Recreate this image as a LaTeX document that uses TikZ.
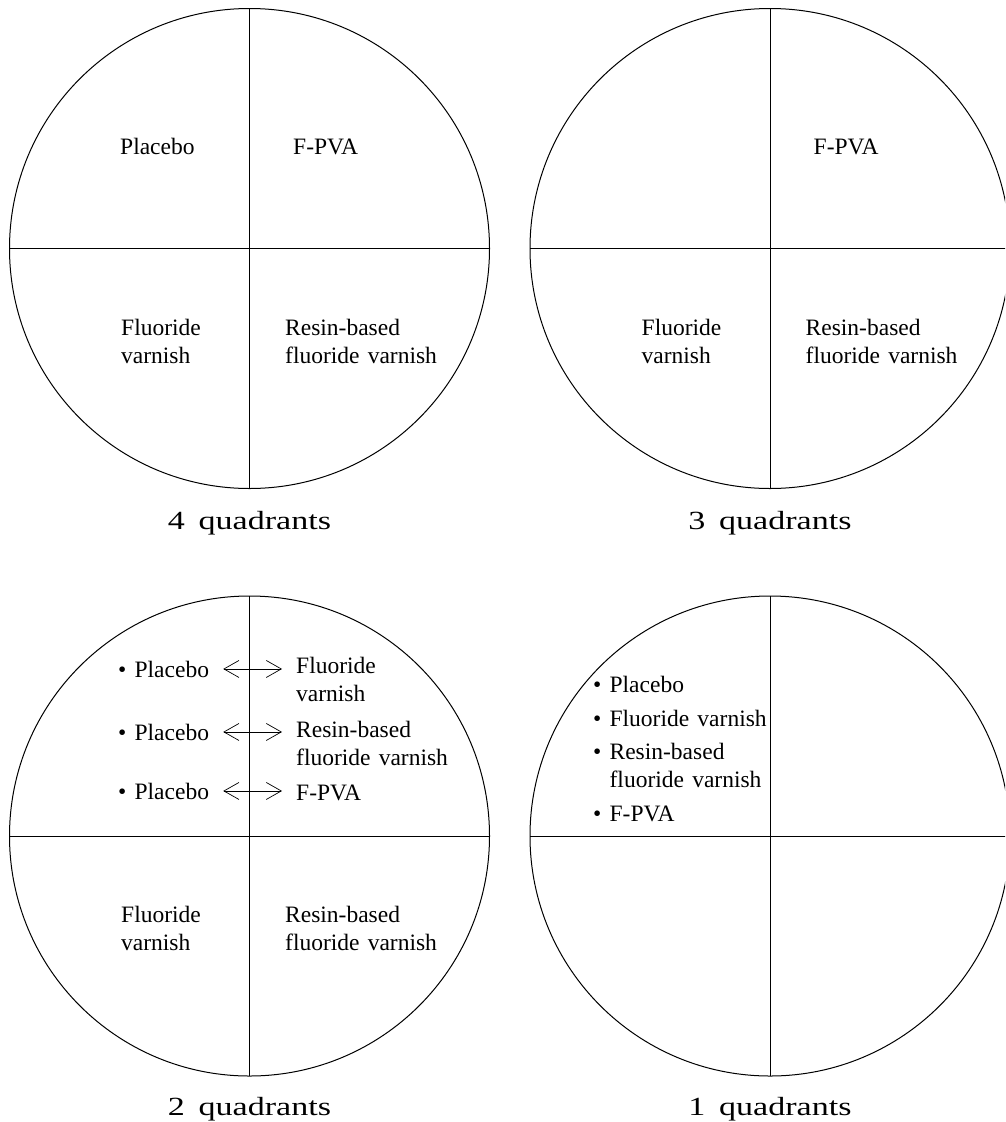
\documentclass[tikz,border=0pt]{standalone}
\usepackage{fontspec}
\setmainfont{Liberation Serif}
\newfontfamily\innerfont[WordSpace=1.4]{Liberation Serif}
\newfontfamily\labelfont[FakeStretch=1.3,WordSpace=1.6]{Liberation Serif}
\usetikzlibrary{arrows.meta}
\tikzset{
  quad/.style={draw=black, line width=1pt},
  txt/.style={inner sep=0pt, font=\innerfont\fontsize{23.5}{28}\selectfont, align=left, anchor=base west},
  qlabel/.style={inner sep=0pt, anchor=base, font=\labelfont\fontsize{26.2}{30}\selectfont},
  dbl/.style={{Straight Barb[length=15pt,width=17pt]}-{Straight Barb[length=15pt,width=17pt]}, line width=0.7pt, shorten <=14pt, shorten >=14pt}
}
\begin{document}
\begin{tikzpicture}[x=1pt,y=-1pt]
\useasboundingbox (0,0) rectangle (1005,1122);
\clip (0,0) rectangle (1005,1122);
% circles and quadrant lines
\foreach \cx/\cy in {249.5/248.5, 770/248.5, 249.5/836, 770/836}{
  \draw[quad] (\cx,\cy) circle[radius=240pt];
  \draw[quad] (\cx,\cy-240) -- (\cx,\cy+240);
  \draw[quad] (\cx-240,\cy) -- (\cx+240,\cy);
}
% top-left (base anchor of a two-line node = its last line)
\node[txt] (tlp) at (120,154) {Placebo};
\node[txt] (tlf) at (293,154) {F-PVA};
\node[txt] (tlv) at (121,363) {Fluoride\\varnish};
\node[txt] (tlr) at (285,363) {Resin-based\\fluoride varnish};
\node[qlabel] (l4) at (249.5,529) {4 quadrants};
% top-right
\node[txt] (trf) at (813.5,154) {F-PVA};
\node[txt] (trv) at (641.5,363) {Fluoride\\varnish};
\node[txt] (trr) at (805.5,363) {Resin-based\\fluoride varnish};
\node[qlabel] (l3) at (770,529) {3 quadrants};
% bottom-left
\node[txt] (p1) at (118,677) {\textbullet\ Placebo};
\node[txt] (q1) at (296,701) {Fluoride\\varnish};
\node[txt] (p2) at (118,740) {\textbullet\ Placebo};
\node[txt] (q2) at (296,765) {Resin-based\\fluoride varnish};
\node[txt] (p3) at (118,799) {\textbullet\ Placebo};
\node[txt] (q3) at (296,800) {F-PVA};
\draw[dbl] (p1.east) -- (p1.east -| q1.west);
\draw[dbl] (p2.east) -- (p2.east -| q2.west);
\draw[dbl] (p3.east) -- (p3.east -| q3.west);
\node[txt] (blv) at (121,950.5) {Fluoride\\varnish};
\node[txt] (blr) at (285,950.5) {Resin-based\\fluoride varnish};
\node[qlabel] (l2) at (249.5,1115) {2 quadrants};
% bottom-right
\node[txt] (b1) at (593,692) {\textbullet\ Placebo};
\node[txt] (b2) at (593,726) {\textbullet\ Fluoride varnish};
\node[txt] (b3) at (593,787) {\textbullet\ Resin-based\\\hphantom{\textbullet\ }fluoride varnish};
\node[txt] (b4) at (593,821) {\textbullet\ F-PVA};
\node[qlabel] (l1) at (770,1115) {1 quadrants};
\end{tikzpicture}
\end{document}
